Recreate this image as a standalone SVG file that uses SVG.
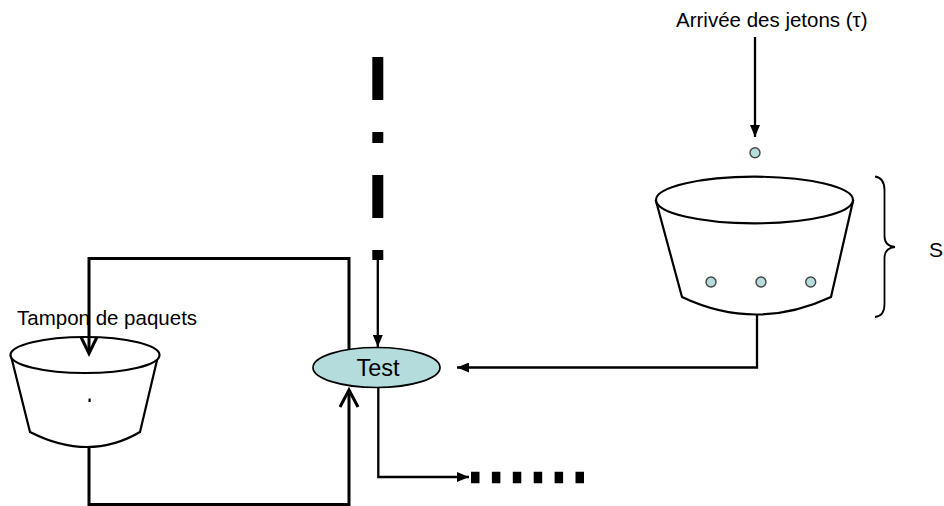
<svg xmlns="http://www.w3.org/2000/svg" width="944" height="506" viewBox="0 0 944 506">
  <style>
    .lbl { font-family: "Liberation Sans", Arial, sans-serif; fill: #000; }
    .wire { fill: none; stroke: #000; stroke-width: 2.3; }
    .loop { fill: none; stroke: #000; stroke-width: 3; }
    .bucket { fill: #fff; stroke: #000; stroke-width: 2.2; }
    .token { fill: #b4dcdc; stroke: #444; stroke-width: 1.4; }
  </style>
  <defs>
    <marker id="solid" viewBox="0 0 12 10" refX="12" refY="5" markerWidth="12" markerHeight="10" markerUnits="userSpaceOnUse" orient="auto">
      <path d="M0,0 L12,5 L0,10 Z" fill="#000"/>
    </marker>
  </defs>

  <!-- connectors -->
  <g id="connectors">
    <!-- packet loop: top branch into the buffer -->
    <polyline class="loop" points="349,352 349,258.5 89,258.5 89,353"/>
    <!-- packet loop: buffer output back to the test -->
    <polyline class="loop" points="89,446 89,504.5 349,504.5 349,391"/>
    <polyline class="loop" points="340,407 349,390 358,407"/>
    <!-- incoming packets stream -->
    <line x1="377.8" y1="57" x2="377.8" y2="260" stroke="#000" stroke-width="11" stroke-dasharray="43,32,11,32"/>
    <line class="wire" x1="377.8" y1="259" x2="377.8" y2="347" marker-end="url(#solid)"/>
    <!-- token arrival -->
    <line class="wire" x1="755" y1="37" x2="755" y2="137" marker-end="url(#solid)"/>
    <!-- token bucket to test -->
    <polyline class="wire" points="757,314 757,367.5 457,367.5" marker-end="url(#solid)"/>
    <!-- test output -->
    <polyline class="wire" points="378.3,388 378.3,477 469,477" marker-end="url(#solid)"/>
    <line x1="471" y1="477.5" x2="590" y2="477.5" stroke="#000" stroke-width="11.5" stroke-dasharray="8.5,12.4"/>
  </g>

  <!-- packet buffer -->
  <g id="packet-buffer">
    <path class="bucket" d="M11,356 L30,432 Q89,462 140,432 L158,356 Z"/>
    <ellipse class="bucket" cx="85" cy="355" rx="74.5" ry="18"/>
    <polyline class="loop" points="89,337 89,353.5"/>
    <polyline class="loop" points="81,337 89,353.5 97,337"/>
    <rect x="88.5" y="398.5" width="2.2" height="3.5" fill="#000"/>
    <text class="lbl" x="17" y="325" font-size="20.5">Tampon de paquets</text>
  </g>

  <!-- test node -->
  <g id="test">
    <ellipse cx="376.5" cy="367.5" rx="63.5" ry="20" fill="#b4dcdc" stroke="#000" stroke-width="1.7"/>
    <text class="lbl" x="378" y="376" font-size="23.5" text-anchor="middle">Test</text>
  </g>

  <!-- token bucket -->
  <g id="token-bucket">
    <circle class="token" cx="755" cy="152.7" r="5"/>
    <path class="bucket" d="M656,201 L682,297 Q756,332 831,297 L853,201 Z"/>
    <ellipse class="bucket" cx="754.5" cy="200" rx="98.5" ry="23.3"/>
    <circle class="token" cx="711" cy="282" r="5"/>
    <circle class="token" cx="761" cy="282" r="5"/>
    <circle class="token" cx="810.7" cy="282" r="5"/>
    <text class="lbl" x="676" y="27" font-size="20.5">Arrivée des jetons (τ)</text>
  </g>

  <!-- bucket size brace -->
  <g id="size">
    <path d="M875,176.5 Q884.5,178 884.5,190 L884.5,236 Q884.5,246 895,247 Q884.5,248 884.5,258 L884.5,304 Q884.5,316 875,317" fill="none" stroke="#000" stroke-width="1.8"/>
    <text class="lbl" x="929" y="257" font-size="21">S</text>
  </g>
</svg>
